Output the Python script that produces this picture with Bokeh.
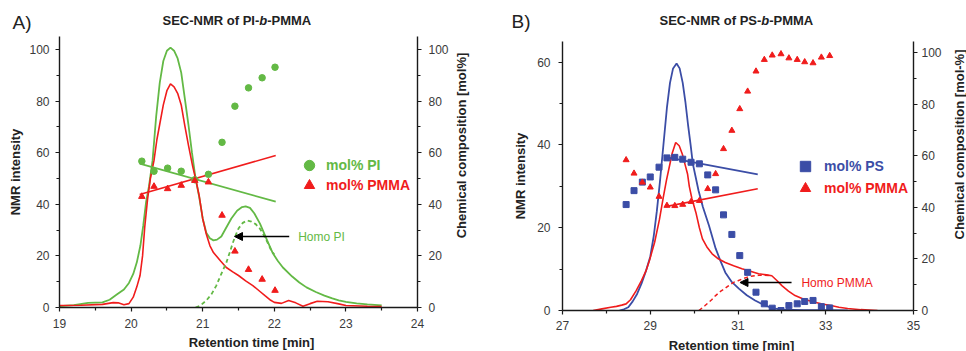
import math
from bokeh.plotting import figure
from bokeh.models import (Range1d, LinearAxis, FixedTicker, Label, Arrow,
                          NormalHead, Legend, LegendItem)
from bokeh.layouts import row, column
from bokeh.embed import file_html
from bokeh.resources import INLINE

GREEN = "#63B945"
RED = "#F01C1C"
BLUE = "#3B4DA6"
FONT = "Liberation Sans"

# ---------------- Panel A: PI-b-PMMA ----------------
a_pi_time = [19.0, 19.2, 19.4, 19.6, 19.7, 19.8, 19.9, 19.97, 20.03, 20.08, 20.13, 20.17,
             20.21, 20.25, 20.3, 20.35, 20.4, 20.45, 20.5, 20.55, 20.6, 20.65, 20.7, 20.75,
             20.8, 20.85, 20.9, 20.95, 21.0, 21.05, 21.1, 21.15, 21.2, 21.26, 21.32, 21.4,
             21.48, 21.55, 21.6, 21.66, 21.72, 21.8, 21.9, 21.98, 22.05, 22.12, 22.25, 22.35,
             22.45, 22.58, 22.7, 22.81, 22.9, 23.0, 23.15, 23.3, 23.5]
a_pi_int = [0.5, 0.9, 1.8, 2.0, 3.0, 5.0, 7.0, 9.5, 13.0, 17.5, 24.0, 31.8,
            41.0, 47.0, 57.0, 74.0, 87.0, 95.5, 99.5, 100.7, 99.5, 96.5, 91.0, 81.0,
            71.0, 60.0, 50.0, 43.0, 34.5, 29.0, 26.8, 26.0, 26.3, 27.5, 30.5, 34.5,
            37.5, 38.9, 39.2, 38.6, 36.5, 32.5, 26.0, 21.0, 18.0, 15.5, 12.0, 9.7,
            7.8, 6.0, 4.6, 3.5, 2.8, 2.2, 1.6, 1.2, 0.8]

a_pmma_time = [19.0, 19.3, 19.6, 19.75, 19.82, 19.9, 19.97, 20.03, 20.08, 20.125, 20.16,
               20.19, 20.23, 20.27, 20.32, 20.36, 20.4, 20.45, 20.5, 20.55, 20.6, 20.65,
               20.7, 20.75, 20.8, 20.86, 20.9, 20.95, 21.0, 21.05, 21.1, 21.15, 21.25, 21.33,
               21.42, 21.5, 21.6, 21.7, 21.8, 21.87, 21.95, 22.0, 22.1, 22.2, 22.3, 22.4,
               22.5, 22.6, 22.75, 22.9, 23.0, 23.3, 23.5]
a_pmma_int = [0.8, 0.9, 1.2, 1.9, 1.8, 1.1, 1.5, 4.0, 8.0, 12.4, 20.0,
              31.0, 42.0, 50.0, 57.0, 65.0, 71.0, 78.5, 84.0, 86.6, 85.5, 83.0,
              78.5, 70.5, 63.0, 54.7, 50.0, 43.4, 34.4, 28.5, 24.0, 21.3, 18.0, 15.5,
              13.8, 12.4, 10.3, 8.5, 6.2, 4.6, 2.8, 2.0, 1.6, 2.7, 1.8, 0.5,
              1.5, 2.4, 2.2, 1.4, 0.8, 0.5, 0.4]

a_homo_time = [20.9, 20.97, 21.05, 21.12, 21.19, 21.26, 21.33, 21.38, 21.42, 21.46, 21.5,
               21.56, 21.62, 21.68, 21.74, 21.8, 21.85, 21.9, 21.95, 22.0]
a_homo_int = [0.0, 0.8, 2.7, 5.0, 8.5, 13.0, 17.4, 21.5, 25.0, 28.0, 30.6,
              32.8, 33.7, 33.3, 32.3, 30.5, 28.2, 25.5, 22.5, 20.5]

a_comp_time = [20.15, 20.32, 20.51, 20.70, 20.89, 21.08, 21.27, 21.45, 21.64, 21.83, 22.01]
a_mol_pi = [56.7, 52.8, 54.0, 52.8, 49.5, 51.6, 64.0, 78.0, 85.1, 89.0, 93.1]
a_mol_pmma = [43.0, 46.9, 46.0, 47.3, 49.2, 48.6, 35.7, 21.8, 14.7, 10.9, 6.6]

a_fit_time = [20.12, 22.02]
a_fit_pi = [55.7, 41.0]
a_fit_pmma = [43.8, 58.9]

a_x_ticks = [19, 20, 21, 22, 23, 24]
a_x_minor = [19.5, 20.5, 21.5, 22.5, 23.5]
a_y_ticks = [0, 20, 40, 60, 80, 100]
a_y_minor = [10, 30, 50, 70, 90]

# ---------------- Panel B: PS-b-PMMA ----------------
b_ps_time = [28.3, 28.4, 28.5, 28.6, 28.7, 28.8, 28.9, 29.0, 29.08, 29.15, 29.22, 29.3,
             29.38, 29.45, 29.52, 29.6, 29.67, 29.74, 29.8, 29.86, 29.92, 29.97, 30.03,
             30.1, 30.2, 30.34, 30.49, 30.6, 30.71, 30.85, 31.02, 31.2, 31.39, 31.6,
             31.77, 32.0, 32.5, 33.0, 33.5]
b_ps_int = [0.0, 0.3, 0.8, 2.2, 4.0, 6.5, 9.5, 13.0, 18.0, 24.0, 31.0, 40.0,
            49.0, 55.0, 58.5, 59.7, 58.5, 55.0, 50.5, 45.0, 40.0, 35.5, 32.5,
            29.0, 25.0, 20.5, 15.0, 12.0, 9.2, 7.0, 5.3, 3.7, 2.4, 1.3,
            0.6, 0.2, 0.1, 0.1, 0.0]

b_pmma_time = [27.7, 27.9, 28.1, 28.23, 28.35, 28.45, 28.55, 28.68, 28.8, 28.9, 28.98,
               29.1, 29.21, 29.3, 29.37, 29.43, 29.5, 29.58, 29.66, 29.73, 29.8, 29.85,
               29.89, 29.95, 30.04, 30.12, 30.19, 30.3, 30.41, 30.55, 30.71, 30.9, 31.09,
               31.28, 31.47, 31.65, 31.77, 31.88, 32.0, 32.15, 32.3, 32.5, 32.75, 32.95,
               33.12, 33.3, 33.5, 33.8, 34.18]
b_pmma_int = [0.0, 0.4, 0.8, 1.0, 1.3, 1.6, 2.6, 4.8, 7.2, 9.5, 12.0,
              16.5, 22.0, 27.5, 31.5, 34.5, 38.0, 40.6, 39.8, 37.8, 35.0, 33.0,
              30.0, 27.0, 23.7, 20.0, 17.3, 15.2, 13.7, 12.5, 11.6, 10.8, 10.1,
              9.5, 8.9, 8.6, 8.4, 7.3, 6.0, 4.7, 3.6, 2.7, 2.0, 1.5,
              1.2, 0.8, 0.5, 0.2, 0.0]

b_homo_time = [30.11, 30.25, 30.4, 30.49, 30.6, 30.7, 30.79, 30.9, 31.0, 31.09, 31.2,
               31.3, 31.47, 31.6, 31.75]
b_homo_int = [0.0, 1.2, 2.6, 3.6, 4.6, 5.3, 6.0, 6.8, 7.2, 7.6, 8.0,
              8.3, 8.5, 8.5, 8.4]

b_comp_time = [28.45, 28.63, 28.82, 29.0, 29.2, 29.38, 29.56, 29.74, 29.93, 30.12, 30.31,
               30.49, 30.67, 30.86, 31.04, 31.22, 31.41, 31.6, 31.78, 31.98, 32.16, 32.35,
               32.52, 32.71, 32.9, 33.09]
b_mol_ps = [41.1, 46.5, 49.8, 51.8, 55.6, 59.2, 59.4, 58.7, 57.5, 56.9, 52.6,
            46.8, 37.1, 29.5, 21.3, 14.8, 7.1, 2.6, 0.9, 0.0, 1.9, 2.6,
            3.5, 3.9, 1.5, 1.0]
b_mol_pmma = [58.4, 53.2, 49.7, 47.8, 44.2, 40.7, 40.6, 41.1, 42.2, 42.6, 47.2,
              53.0, 62.7, 69.8, 78.2, 85.0, 92.8, 97.3, 99.0, 99.5, 97.9, 97.3,
              96.4, 96.0, 98.2, 98.8]

b_fit_time = [29.35, 31.45]
b_fit_ps = [59.5, 52.8]
b_fit_pmma = [40.3, 47.2]

b_x_ticks = [27, 29, 31, 33, 35]
b_x_minor = [28, 30, 32, 34]
b_y_ticks = [0, 20, 40, 60]
b_y_minor = [10, 30, 50]
b_r_ticks = [0, 20, 40, 60, 80, 100]
b_r_minor = [10, 30, 50, 70, 90]


def style_axis(axis, ticks, minor, standoff, label=None, label_standoff=0):
    axis.ticker = FixedTicker(ticks=ticks, minor_ticks=minor)
    axis.axis_line_color = "#1a1a1a"
    axis.axis_line_width = 1.4
    axis.major_tick_line_color = "#1a1a1a"
    axis.major_tick_line_width = 1.2
    axis.minor_tick_line_color = "#1a1a1a"
    axis.minor_tick_line_width = 1.2
    axis.major_tick_in = 0
    axis.major_tick_out = 4
    axis.minor_tick_in = 0
    axis.minor_tick_out = 3
    axis.major_label_standoff = standoff
    axis.major_label_text_font = FONT
    axis.major_label_text_font_size = "12px"
    axis.major_label_text_color = "#3a3a3a"
    if label is not None:
        axis.axis_label = label
        axis.axis_label_standoff = label_standoff
        axis.axis_label_text_font = FONT
        axis.axis_label_text_font_size = "13px"
        axis.axis_label_text_font_style = "bold"
        axis.axis_label_text_color = "#222222"


def add_key(p, renderer, text, color, fx, fy, standoff):
    leg = Legend(items=[LegendItem(label=text, renderers=[renderer])], location=(fx, fy),
                 glyph_width=26, glyph_height=26, label_height=26, padding=0, margin=0,
                 spacing=0, label_standoff=standoff, label_text_font=FONT,
                 label_text_font_style="bold", label_text_font_size="14px",
                 label_text_color=color, label_text_baseline="middle",
                 background_fill_alpha=0, border_line_alpha=0)
    p.add_layout(leg, "center")


def text_label(p, x, y, text, size, color="#222222", style="normal", align="left",
               baseline="middle", angle=0.0):
    p.add_layout(Label(x=x, y=y, text=text, text_font=FONT, text_font_size=size,
                       text_font_style=style, text_color=color, text_align=align,
                       text_baseline=baseline, angle=angle))


def strip(x0, x1, y_top, y_bottom):
    # plain text strip; its data units are page pixels (y grows downwards)
    s = figure(width=int(round(x1 - x0)), height=int(round(y_bottom - y_top)),
               x_range=Range1d(x0, x1), y_range=Range1d(y_bottom, y_top),
               output_backend="svg", toolbar_location=None, x_axis_location=None,
               y_axis_location=None, min_border=0)
    s.outline_line_color = None
    s.xgrid.visible = False
    s.ygrid.visible = False
    s.background_fill_color = "white"
    s.border_fill_color = "white"
    return s


def side_strip(x0, x1, y_top, y_bottom, height, bottom):
    s = figure(width=int(round(x1 - x0)), height=height, x_range=Range1d(x0, x1),
               y_range=Range1d(y_bottom, y_top), output_backend="svg",
               toolbar_location=None, x_axis_location=None, y_axis_location=None,
               min_border_left=0, min_border_right=0, min_border_top=0,
               min_border_bottom=bottom)
    s.outline_line_color = None
    s.xgrid.visible = False
    s.ygrid.visible = False
    return s


def base_figure(xr, yr, width, height, left, right, bottom):
    p = figure(width=width, height=height, x_range=Range1d(*xr), y_range=Range1d(*yr),
               output_backend="svg", toolbar_location=None,
               min_border_left=left, min_border_right=right,
               min_border_top=0, min_border_bottom=bottom)
    p.outline_line_color = None
    p.xgrid.visible = False
    p.ygrid.visible = False
    p.background_fill_color = "white"
    p.border_fill_color = "white"
    return p


# ---------------- Figure A ----------------
topA = strip(0, 483, 0, 36)
text_label(topA, 12, 22.3, "A)", "19px")
text_label(topA, 162, 20.1, "SEC-NMR of PI-", "13px", style="bold")
text_label(topA, 258.8, 20.1, "b", "13px", style="bold italic")
text_label(topA, 266.7, 20.1, "-PMMA", "13px", style="bold")

botA = strip(0, 483, 332, 351)
text_label(botA, 251, 342.3, "Retention time [min]", "13px", style="bold", align="center")

pA = base_figure((19, 24), (0, 105), 451, 296, 59, 32, 25)
pA.extra_y_ranges = {"comp": Range1d(0, 105)}
rA = LinearAxis(y_range_name="comp")
pA.add_layout(rA, "right")
style_axis(pA.xaxis[0], a_x_ticks, a_x_minor, 7)
style_axis(pA.yaxis[0], a_y_ticks, a_y_minor, 6, "NMR intensity", 3)
style_axis(rA, a_y_ticks, a_y_minor, 7)

sideA = side_strip(451, 483, 36, 307, 296, 25)
text_label(sideA, 460.5, 145, "Chemical composition [mol%]", "13px", style="bold",
           align="center", angle=math.pi / 2)


def a_px(x, y):
    return 19 + (x - 59) / 72.0, (307 - y) * 105.0 / 271.0


pA.line(a_pi_time, a_pi_int, line_color=GREEN, line_width=1.8)
pA.line(a_pmma_time, a_pmma_int, line_color=RED, line_width=1.6)
pA.line(a_homo_time, a_homo_int, line_color=GREEN, line_width=1.8, line_dash="4 3")
pA.line(a_fit_time, a_fit_pi, line_color=GREEN, line_width=1.8, y_range_name="comp")
pA.line(a_fit_time, a_fit_pmma, line_color=RED, line_width=1.6, y_range_name="comp")
sa1 = pA.scatter(a_comp_time, a_mol_pi, marker="circle", size=6.5, fill_color=GREEN,
                 line_color=GREEN, y_range_name="comp")
sa2 = pA.scatter(a_comp_time, a_mol_pmma, marker="triangle", size=6.5, fill_color=RED,
                 line_color=RED, y_range_name="comp")
add_key(pA, sa1, "mol% PI", GREEN, 237, 129, 4)
add_key(pA, sa2, "mol% PMMA", RED, 237, 109, 4)

x0, y0 = a_px(290, 236)
x1, y1 = a_px(235, 236)
pA.add_layout(Arrow(end=NormalHead(size=8, fill_color="black", line_color="black"),
                    x_start=x0, y_start=y0, x_end=x1, y_end=y1,
                    line_color="black", line_width=1.5))
tx, ty = a_px(299, 236)
text_label(pA, tx, ty, "Homo PI", "12px", GREEN)

# ---------------- Figure B ----------------
topB = strip(483, 966, 0, 41)
text_label(topB, 511, 20.5, "B)", "19px")
text_label(topB, 659, 20.1, "SEC-NMR of PS-", "13px", style="bold")
text_label(topB, 760.8, 20.1, "b", "13px", style="bold italic")
text_label(topB, 768.7, 20.1, "-PMMA", "13px", style="bold")

botB = strip(483, 966, 335, 351)
text_label(botB, 731, 344.5, "Retention time [min]", "13px", style="bold", align="center")

pB = base_figure((27, 35), (0, 65), 461, 294, 79, 28, 25)
pB.extra_y_ranges = {"comp": Range1d(0, 104.35)}
rB = LinearAxis(y_range_name="comp")
pB.add_layout(rB, "right")
style_axis(pB.xaxis[0], b_x_ticks, b_x_minor, 6)
style_axis(pB.yaxis[0], b_y_ticks, b_y_minor, 8, "NMR intensity", 6)
style_axis(rB, b_r_ticks, b_r_minor, 4)

sideB = side_strip(944, 966, 41, 310, 294, 25)
text_label(sideB, 959, 144, "Chemical composition [mol-%]", "13px", style="bold",
           align="center", angle=math.pi / 2)


def b_px(x, y):
    return 27 + (x - 562) * 8.0 / 354.0, (310 - y) * 65.0 / 269.0


pB.line(b_ps_time, b_ps_int, line_color=BLUE, line_width=1.8)
pB.line(b_pmma_time, b_pmma_int, line_color=RED, line_width=1.6)
pB.line(b_homo_time, b_homo_int, line_color=RED, line_width=1.5, line_dash="4 3")
pB.line(b_fit_time, b_fit_ps, line_color=BLUE, line_width=1.8, y_range_name="comp")
pB.line(b_fit_time, b_fit_pmma, line_color=RED, line_width=1.6, y_range_name="comp")
sb1 = pB.scatter(b_comp_time, b_mol_ps, marker="square", size=6, fill_color=BLUE,
                 line_color=BLUE, y_range_name="comp")
sb2 = pB.scatter(b_comp_time, b_mol_pmma, marker="triangle", size=6, fill_color=RED,
                 line_color=RED, y_range_name="comp")
add_key(pB, sb1, "mol% PS", BLUE, 230, 131, 6)
add_key(pB, sb2, "mol% PMMA", RED, 230, 109, 6)

x0, y0 = b_px(793, 282)
x1, y1 = b_px(741, 282)
pB.add_layout(Arrow(end=NormalHead(size=8, fill_color="black", line_color="black"),
                    x_start=x0, y_start=y0, x_end=x1, y_end=y1,
                    line_color="black", line_width=1.5))
tx, ty = b_px(803, 282)
text_label(pB, tx, ty, "Homo PMMA", "12px", RED)

panelA = column(row(topA), row(pA, sideA), row(botA))
panelB = column(row(topB), row(pB, sideB), row(botB))
layout = row(panelA, panelB)
open("out.html", "w").write(file_html(layout, INLINE))
